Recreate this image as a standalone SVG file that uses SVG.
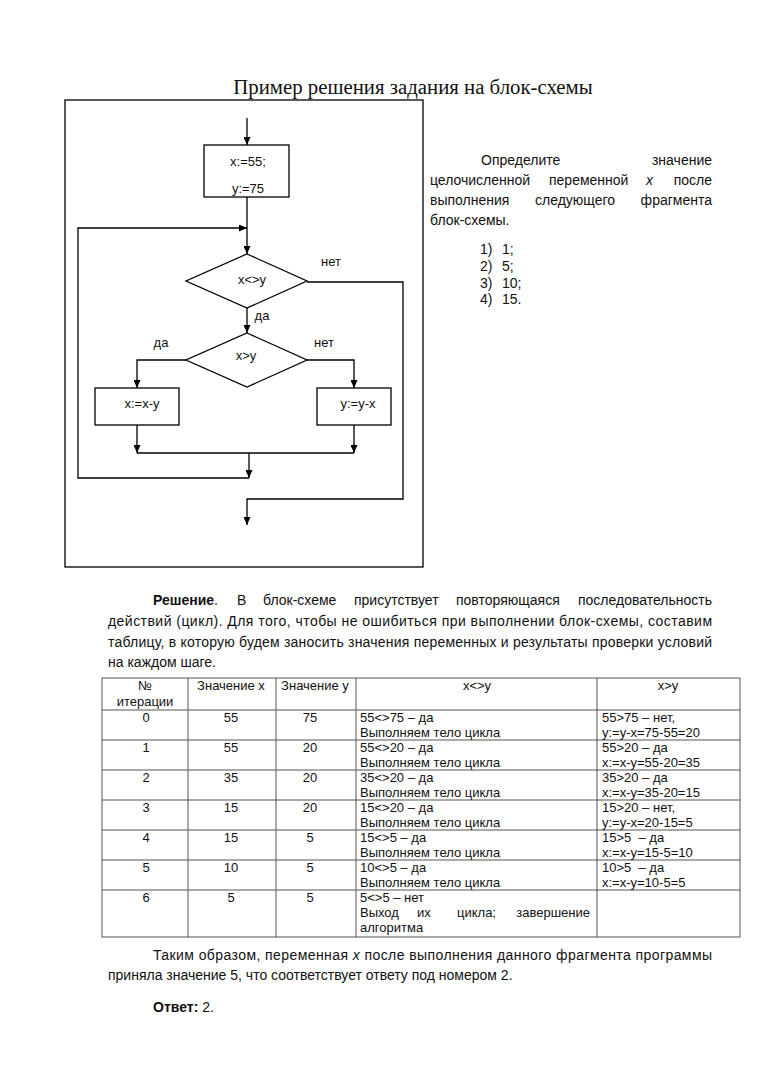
<svg xmlns="http://www.w3.org/2000/svg" width="768" height="1087" viewBox="0 0 768 1087">
<style>
.s{font-family:"Liberation Sans",Arial,sans-serif;fill:#111}
.fc{font-size:13px}
.rt{font-size:14px}
.tb{font-size:13px}
.c{text-anchor:middle}
.e{text-anchor:end}
.b{font-weight:bold}
.i{font-style:italic}
.ln{fill:none;stroke:#000;stroke-width:1.3}
.nd{fill:#fff;stroke:#000;stroke-width:1.3}
.tl{stroke:#555;stroke-width:1;fill:none}
</style>
<defs>
<marker id="ah" markerUnits="userSpaceOnUse" markerWidth="8" markerHeight="7" refX="8" refY="3.5" orient="auto">
<path d="M0,0 L8,3.5 L0,7 z" fill="#000"/>
</marker>
</defs>
<rect width="768" height="1087" fill="#fff"/>
<text x="413" y="94" text-anchor="middle" style="font-family:'Liberation Serif','Times New Roman',serif;font-size:20.8px;fill:#111">Пример решения задания на блок-схемы</text>
<rect x="65" y="100" width="358" height="467" fill="none" stroke="#000" stroke-width="1.3"/>

<g id="connectors">
<line class="ln" x1="247" y1="118" x2="247" y2="145" marker-end="url(#ah)"/>
<line class="ln" x1="247" y1="197" x2="247" y2="254" marker-end="url(#ah)"/>
<polyline class="ln" points="249,478 78,478 78,228 247,228" marker-end="url(#ah)"/>
<line class="ln" x1="247" y1="308" x2="247" y2="333" marker-end="url(#ah)"/>
<polyline class="ln" points="307,282 403,282 403,499 247,499 247,525" marker-end="url(#ah)"/>
<polyline class="ln" points="186,360 137,360 137,388" marker-end="url(#ah)"/>
<polyline class="ln" points="307,360 354,360 354,388" marker-end="url(#ah)"/>
<line class="ln" x1="137" y1="425" x2="137" y2="453" marker-end="url(#ah)"/>
<line class="ln" x1="354" y1="425" x2="354" y2="453" marker-end="url(#ah)"/>
<line class="ln" x1="137" y1="453" x2="354" y2="453"/>
<line class="ln" x1="249" y1="453" x2="249" y2="478" marker-end="url(#ah)"/>
<text class="s fc" x="331" y="265.5" text-anchor="middle">нет</text>
<text class="s fc" x="262" y="320" text-anchor="middle">да</text>
<text class="s fc" x="161" y="346.5" text-anchor="middle">да</text>
<text class="s fc" x="324" y="346.5" text-anchor="middle">нет</text>
</g>

<g id="init">
<rect class="nd" x="204" y="145" width="85" height="52"/>
<text class="s fc c" x="248" y="166">x:=55;</text>
<text class="s fc c" x="248" y="193">y:=75</text>
</g>
<g id="cond1">
<polygon class="nd" points="247,254 307,281 247,308 186,281"/>
<text class="s fc c" x="252" y="284">x&lt;&gt;y</text>
</g>
<g id="cond2">
<polygon class="nd" points="247,333 307,360 247,387 186,360"/>
<text class="s fc c" x="246" y="360">x&gt;y</text>
</g>
<g id="subx">
<rect class="nd" x="95" y="388" width="84" height="37"/>
<text class="s fc c" x="142" y="408">x:=x-y</text>
</g>
<g id="suby">
<rect class="nd" x="317" y="388" width="74" height="37"/>
<text class="s fc c" x="358" y="408">y:=y-x</text>
</g>

<g id="question">
<text class="s rt" x="481" y="165">Определите</text>
<text class="s rt e" x="712" y="165">значение</text>
<text class="s rt" x="430" y="185">целочисленной</text>
<text class="s rt" x="549" y="185">переменной</text>
<text class="s rt i" x="646" y="185">x</text>
<text class="s rt e" x="712" y="185">после</text>
<text class="s rt" x="430" y="205">выполнения</text>
<text class="s rt" x="535" y="205">следующего</text>
<text class="s rt e" x="712" y="205">фрагмента</text>
<text class="s rt" x="430" y="225">блок-схемы.</text>
<text class="s rt" x="480" y="254">1)</text><text class="s rt" x="502" y="254">1;</text>
<text class="s rt" x="480" y="271">2)</text><text class="s rt" x="502" y="271">5;</text>
<text class="s rt" x="480" y="288">3)</text><text class="s rt" x="502" y="288">10;</text>
<text class="s rt" x="480" y="304">4)</text><text class="s rt" x="502" y="304">15.</text>
</g>

<g id="solution">
<text class="s rt" x="153" y="605"><tspan class="b">Решение</tspan>.</text>
<text class="s rt" x="237" y="605">В</text>
<text class="s rt" x="263" y="605">блок-схеме</text>
<text class="s rt" x="354" y="605">присутствует</text>
<text class="s rt" x="456" y="605">повторяющаяся</text>
<text class="s rt e" x="712" y="605">последовательность</text>
<text class="s rt" x="108" y="626" textLength="604" lengthAdjust="spacing">действий (цикл). Для того, чтобы не ошибиться при выполнении блок-схемы, составим</text>
<text class="s rt" x="108" y="647" textLength="604" lengthAdjust="spacing">таблицу, в которую будем заносить значения переменных и результаты проверки условий</text>
<text class="s rt" x="108" y="667">на каждом шаге.</text>
</g>

<g id="table">
<rect class="tl" x="102" y="678" width="638" height="259"/>
<path class="tl" d="M188,678V937M276,678V937M356,678V937M597,678V937M102,710H740M102,740H740M102,770H740M102,800H740M102,830H740M102,860H740M102,890H740"/>
<g class="s tb">
<text class="c" x="145" y="690">№</text>
<text class="c" x="145" y="706">итерации</text>
<text class="c" x="231" y="690">Значение x</text>
<text class="c" x="315" y="690">Значение y</text>
<text class="c" x="477" y="690">x&lt;&gt;y</text>
<text class="c" x="668" y="690">x&gt;y</text>

<text class="c" x="146" y="722">0</text><text class="c" x="231" y="722">55</text><text class="c" x="310" y="722">75</text>
<text x="360" y="722">55&lt;&gt;75 – да</text><text x="360" y="737">Выполняем тело цикла</text>
<text x="602" y="722">55&gt;75 – нет,</text><text x="602" y="737">y:=y-x=75-55=20</text>

<text class="c" x="146" y="752">1</text><text class="c" x="231" y="752">55</text><text class="c" x="310" y="752">20</text>
<text x="360" y="752">55&lt;&gt;20 – да</text><text x="360" y="767">Выполняем тело цикла</text>
<text x="602" y="752">55&gt;20 – да</text><text x="602" y="767">x:=x-y=55-20=35</text>

<text class="c" x="146" y="782">2</text><text class="c" x="231" y="782">35</text><text class="c" x="310" y="782">20</text>
<text x="360" y="782">35&lt;&gt;20 – да</text><text x="360" y="797">Выполняем тело цикла</text>
<text x="602" y="782">35&gt;20 – да</text><text x="602" y="797">x:=x-y=35-20=15</text>

<text class="c" x="146" y="812">3</text><text class="c" x="231" y="812">15</text><text class="c" x="310" y="812">20</text>
<text x="360" y="812">15&lt;&gt;20 – да</text><text x="360" y="827">Выполняем тело цикла</text>
<text x="602" y="812">15&gt;20 – нет,</text><text x="602" y="827">y:=y-x=20-15=5</text>

<text class="c" x="146" y="842">4</text><text class="c" x="231" y="842">15</text><text class="c" x="310" y="842">5</text>
<text x="360" y="842">15&lt;&gt;5 – да</text><text x="360" y="857">Выполняем тело цикла</text>
<text x="602" y="842" xml:space="preserve">15&gt;5  – да</text><text x="602" y="857">x:=x-y=15-5=10</text>

<text class="c" x="146" y="872">5</text><text class="c" x="231" y="872">10</text><text class="c" x="310" y="872">5</text>
<text x="360" y="872">10&lt;&gt;5 – да</text><text x="360" y="887">Выполняем тело цикла</text>
<text x="602" y="872" xml:space="preserve">10&gt;5  – да</text><text x="602" y="887">x:=x-y=10-5=5</text>

<text class="c" x="146" y="902">6</text><text class="c" x="231" y="902">5</text><text class="c" x="310" y="902">5</text>
<text x="360" y="902">5&lt;&gt;5 – нет</text>
<text x="360" y="917">Выход</text><text x="417" y="917">их</text><text x="457" y="917">цикла;</text><text class="e" x="590" y="917">завершение</text>
<text x="360" y="932">алгоритма</text>
</g>
</g>

<g id="conclusion">
<text class="s rt" x="153" y="960" textLength="559" lengthAdjust="spacing">Таким образом, переменная <tspan class="i">x</tspan> после выполнения данного фрагмента программы</text>
<text class="s rt" x="108" y="980">приняла значение 5, что соответствует ответу под номером 2.</text>
<text class="s rt" x="153" y="1012"><tspan class="b">Ответ:</tspan> 2.</text>
</g>
</svg>
